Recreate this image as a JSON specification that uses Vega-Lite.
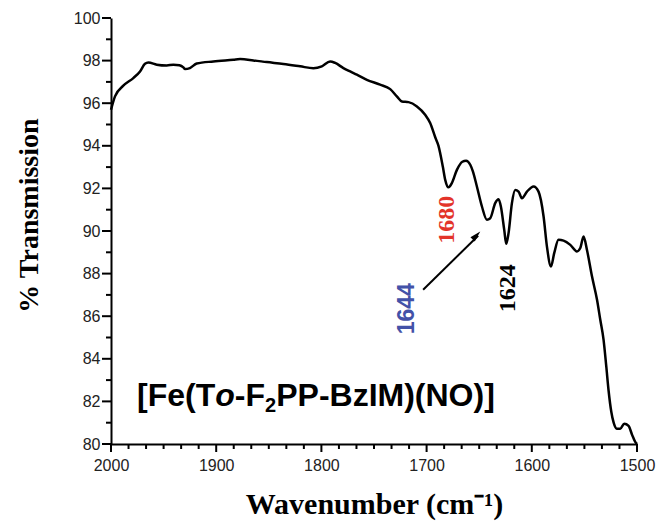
{
  "$schema": "https://vega.github.io/schema/vega-lite/v6.json",
  "width": 526,
  "height": 426,
  "autosize": {"type": "none"},
  "padding": {"left": 111, "top": 18, "right": 19, "bottom": 81},
  "config": {"view": {"stroke": null}},
  "datasets": {
    "spectrum": [
      {"w": 2000, "T": 95.69}, {"w": 1996.2, "T": 96.32}, {"w": 1988.3, "T": 96.82}, {"w": 1978.8, "T": 97.18},
      {"w": 1972.4, "T": 97.49}, {"w": 1967.7, "T": 97.85}, {"w": 1964.5, "T": 97.91}, {"w": 1956.5, "T": 97.81},
      {"w": 1947.0, "T": 97.77}, {"w": 1940.7, "T": 97.81}, {"w": 1935, "T": 97.78}, {"w": 1931.2, "T": 97.68},
      {"w": 1929.6, "T": 97.6}, {"w": 1925, "T": 97.65}, {"w": 1918.5, "T": 97.86}, {"w": 1902.7, "T": 97.96},
      {"w": 1883.7, "T": 98.04}, {"w": 1877.3, "T": 98.07}, {"w": 1864.7, "T": 98.01}, {"w": 1851.9, "T": 97.93},
      {"w": 1836.1, "T": 97.84}, {"w": 1820.2, "T": 97.73}, {"w": 1807.6, "T": 97.64}, {"w": 1799.6, "T": 97.73},
      {"w": 1791.7, "T": 97.96}, {"w": 1786.9, "T": 97.89}, {"w": 1779.1, "T": 97.65}, {"w": 1772.7, "T": 97.49},
      {"w": 1766.3, "T": 97.34}, {"w": 1756.8, "T": 97.10}, {"w": 1744.2, "T": 96.87}, {"w": 1734.6, "T": 96.66},
      {"w": 1728.3, "T": 96.32}, {"w": 1723.5, "T": 96.08}, {"w": 1717.2, "T": 96.05}, {"w": 1709.2, "T": 95.85},
      {"w": 1701.4, "T": 95.46}, {"w": 1696.6, "T": 95.07}, {"w": 1691.8, "T": 94.4}, {"w": 1688.7, "T": 94.0},
      {"w": 1684.5, "T": 93.0}, {"w": 1682.3, "T": 92.4}, {"w": 1679.2, "T": 92.05}, {"w": 1676.0, "T": 92.25},
      {"w": 1671.2, "T": 92.87}, {"w": 1666, "T": 93.25}, {"w": 1662.5, "T": 93.3}, {"w": 1658.5, "T": 93.11},
      {"w": 1656, "T": 92.8}, {"w": 1652.2, "T": 92.09}, {"w": 1647.4, "T": 91.15}, {"w": 1642.7, "T": 90.53},
      {"w": 1639.5, "T": 90.6}, {"w": 1634.8, "T": 91.31}, {"w": 1631.6, "T": 91.49}, {"w": 1629.4, "T": 91.15},
      {"w": 1626.2, "T": 90.05}, {"w": 1624.3, "T": 89.40}, {"w": 1622.1, "T": 89.90}, {"w": 1618.9, "T": 91.31},
      {"w": 1615.8, "T": 91.93}, {"w": 1612.6, "T": 91.85}, {"w": 1609.4, "T": 91.54}, {"w": 1604.6, "T": 91.85},
      {"w": 1598.3, "T": 92.09}, {"w": 1593.6, "T": 91.85}, {"w": 1588.8, "T": 90.68}, {"w": 1585.6, "T": 89.27},
      {"w": 1581.8, "T": 88.33}, {"w": 1578.7, "T": 88.96}, {"w": 1574.6, "T": 89.59}, {"w": 1569.8, "T": 89.55},
      {"w": 1563.4, "T": 89.35}, {"w": 1557.1, "T": 89.04}, {"w": 1553.9, "T": 89.2}, {"w": 1550.8, "T": 89.74},
      {"w": 1547.6, "T": 89.12}, {"w": 1542.8, "T": 87.87}, {"w": 1538.0, "T": 86.77}, {"w": 1534.9, "T": 85.83},
      {"w": 1531.8, "T": 84.9}, {"w": 1529.2, "T": 83.64}, {"w": 1527.0, "T": 82.5}, {"w": 1524.4, "T": 81.5},
      {"w": 1522.2, "T": 81.0}, {"w": 1519.2, "T": 80.72}, {"w": 1515.9, "T": 80.72}, {"w": 1512.1, "T": 80.95},
      {"w": 1508.0, "T": 80.85}, {"w": 1504.8, "T": 80.45}, {"w": 1501.7, "T": 80.1}, {"w": 1500, "T": 80.0}
    ],
    "xMajor": [{"v": 1500}, {"v": 1600}, {"v": 1700}, {"v": 1800}, {"v": 1900}, {"v": 2000}],
    "xMinor": [
      {"v": 1516.667}, {"v": 1533.333}, {"v": 1550}, {"v": 1566.667}, {"v": 1583.333},
      {"v": 1616.667}, {"v": 1633.333}, {"v": 1650}, {"v": 1666.667}, {"v": 1683.333},
      {"v": 1716.667}, {"v": 1733.333}, {"v": 1750}, {"v": 1766.667}, {"v": 1783.333},
      {"v": 1816.667}, {"v": 1833.333}, {"v": 1850}, {"v": 1866.667}, {"v": 1883.333},
      {"v": 1916.667}, {"v": 1933.333}, {"v": 1950}, {"v": 1966.667}, {"v": 1983.333}
    ],
    "yMajor": [{"v": 80}, {"v": 82}, {"v": 84}, {"v": 86}, {"v": 88}, {"v": 90}, {"v": 92}, {"v": 94}, {"v": 96}, {"v": 98}, {"v": 100}],
    "yMinor": [{"v": 81}, {"v": 83}, {"v": 85}, {"v": 87}, {"v": 89}, {"v": 91}, {"v": 93}, {"v": 95}, {"v": 97}, {"v": 99}]
  },
  "resolve": {"axis": {"x": "independent", "y": "independent"}},
  "layer": [
    {
      "data": {"name": "spectrum"},
      "mark": {"type": "line", "color": "black", "strokeWidth": 2.5, "interpolate": "monotone"},
      "encoding": {
        "x": {
          "field": "w", "type": "quantitative",
          "scale": {"domain": [1500, 2000], "reverse": true, "nice": false, "zero": false},
          "axis": {
            "orient": "bottom",
            "grid": false,
            "domainColor": "black",
            "domainWidth": 2,
            "ticks": false,
            "labelFont": "Liberation Sans",
            "labelFontSize": 16,
            "labelColor": "#222222",
            "labelPadding": 13,
            "labelOverlap": false,
            "labelFlush": false,
            "values": [1500, 1600, 1700, 1800, 1900, 2000],
            "format": "d",
            "title": "Wavenumber (cm⁻¹)",
            "titleFont": "Liberation Serif",
            "titleFontWeight": "bold",
            "titleColor": "black",
            "titleFontSize": 30,
            "titleBaseline": "alphabetic",
            "titleY": 69
          }
        },
        "y": {
          "field": "T", "type": "quantitative",
          "scale": {"domain": [80, 100], "nice": false, "zero": false},
          "axis": {
            "orient": "left",
            "grid": false,
            "domainColor": "black",
            "domainWidth": 2,
            "ticks": false,
            "labelFont": "Liberation Sans",
            "labelFontSize": 16,
            "labelColor": "#222222",
            "labelPadding": 11,
            "labelOverlap": false,
            "labelFlush": false,
            "values": [80, 82, 84, 86, 88, 90, 92, 94, 96, 98, 100],
            "format": "d",
            "title": "% Transmission",
            "titleFont": "Liberation Serif",
            "titleFontWeight": "bold",
            "titleColor": "black",
            "titleFontSize": 28,
            "titleBaseline": "alphabetic",
            "titleX": -74,
            "titleY": 197,
            "titleAngle": -90
          }
        }
      }
    },
    {
      "data": {"name": "xMajor"},
      "mark": {"type": "rule", "color": "black", "strokeWidth": 2, "clip": false, "y2Offset": 8},
      "encoding": {
        "x": {"field": "v", "type": "quantitative", "axis": null},
        "y": {"datum": 80, "type": "quantitative", "axis": null},
        "y2": {"datum": 80}
      }
    },
    {
      "data": {"name": "xMinor"},
      "mark": {"type": "rule", "color": "black", "strokeWidth": 2, "clip": false, "y2Offset": 5},
      "encoding": {
        "x": {"field": "v", "type": "quantitative", "axis": null},
        "y": {"datum": 80, "type": "quantitative", "axis": null},
        "y2": {"datum": 80}
      }
    },
    {
      "data": {"name": "yMajor"},
      "mark": {"type": "rule", "color": "black", "strokeWidth": 2, "clip": false, "x2Offset": -9},
      "encoding": {
        "y": {"field": "v", "type": "quantitative", "axis": null},
        "x": {"datum": 2000, "type": "quantitative", "axis": null},
        "x2": {"datum": 2000}
      }
    },
    {
      "data": {"name": "yMinor"},
      "mark": {"type": "rule", "color": "black", "strokeWidth": 2, "clip": false, "x2Offset": -5},
      "encoding": {
        "y": {"field": "v", "type": "quantitative", "axis": null},
        "x": {"datum": 2000, "type": "quantitative", "axis": null},
        "x2": {"datum": 2000}
      }
    },
    {
      "data": {"values": [{"w1": 1703.3, "T1": 87.24, "w2": 1651, "T2": 89.78}]},
      "mark": {"type": "rule", "color": "black", "strokeWidth": 2},
      "encoding": {
        "x": {"field": "w1", "type": "quantitative", "axis": null},
        "y": {"field": "T1", "type": "quantitative", "axis": null},
        "x2": {"field": "w2"},
        "y2": {"field": "T2"}
      }
    },
    {
      "data": {"values": [{"w": 1649, "T": 89.98}]},
      "mark": {"type": "point", "shape": "M0,0L0.3,1.1L-0.3,1.1Z", "size": 400, "filled": true, "color": "black", "opacity": 1, "angle": 44},
      "encoding": {
        "x": {"field": "w", "type": "quantitative", "axis": null},
        "y": {"field": "T", "type": "quantitative", "axis": null}
      }
    },
    {
      "data": {"values": [{"w": 1680.9, "T": 90.53, "label": "1680"}]},
      "mark": {"type": "text", "font": "Liberation Serif", "fontWeight": "bold", "fontSize": 24, "angle": 270, "color": "#e3342a", "align": "center", "baseline": "middle"},
      "encoding": {
        "x": {"field": "w", "type": "quantitative", "axis": null},
        "y": {"field": "T", "type": "quantitative", "axis": null},
        "text": {"field": "label"}
      }
    },
    {
      "data": {"values": [{"w": 1719, "T": 86.35, "label": "1644"}]},
      "mark": {"type": "text", "font": "Liberation Sans", "fontWeight": "bold", "fontSize": 23, "angle": 270, "color": "#4352a8", "align": "center", "baseline": "middle"},
      "encoding": {
        "x": {"field": "w", "type": "quantitative", "axis": null},
        "y": {"field": "T", "type": "quantitative", "axis": null},
        "text": {"field": "label"}
      }
    },
    {
      "data": {"values": [{"w": 1622.4, "T": 87.31, "label": "1624"}]},
      "mark": {"type": "text", "font": "Liberation Serif", "fontWeight": "bold", "fontSize": 24, "angle": 270, "color": "black", "align": "center", "baseline": "middle"},
      "encoding": {
        "x": {"field": "w", "type": "quantitative", "axis": null},
        "y": {"field": "T", "type": "quantitative", "axis": null},
        "text": {"field": "label"}
      }
    },
    {
      "data": {"values": [
        {"w": 1975.27, "T": 81.79, "part": "[Fe(T"},
        {"w": 1882.25, "T": 81.79, "part": "-F"},
        {"w": 1842.97, "T": 81.79, "part": "PP-BzIM)(NO)]"}
      ]},
      "mark": {"type": "text", "font": "Liberation Sans", "fontWeight": "bold", "fontSize": 32, "color": "black", "align": "left", "baseline": "alphabetic"},
      "encoding": {
        "x": {"field": "w", "type": "quantitative", "axis": null},
        "y": {"field": "T", "type": "quantitative", "axis": null},
        "text": {"field": "part"}
      }
    },
    {
      "data": {"values": [{"w": 1900.89, "T": 81.79, "part": "o"}]},
      "mark": {"type": "text", "font": "Liberation Sans", "fontWeight": "bold", "fontStyle": "italic", "fontSize": 32, "color": "black", "align": "left", "baseline": "alphabetic"},
      "encoding": {
        "x": {"field": "w", "type": "quantitative", "axis": null},
        "y": {"field": "T", "type": "quantitative", "axis": null},
        "text": {"field": "part"}
      }
    },
    {
      "data": {"values": [{"w": 1853.53, "T": 81.51, "part": "2"}]},
      "mark": {"type": "text", "font": "Liberation Sans", "fontWeight": "bold", "fontSize": 20, "color": "black", "align": "left", "baseline": "alphabetic"},
      "encoding": {
        "x": {"field": "w", "type": "quantitative", "axis": null},
        "y": {"field": "T", "type": "quantitative", "axis": null},
        "text": {"field": "part"}
      }
    }
  ]
}
